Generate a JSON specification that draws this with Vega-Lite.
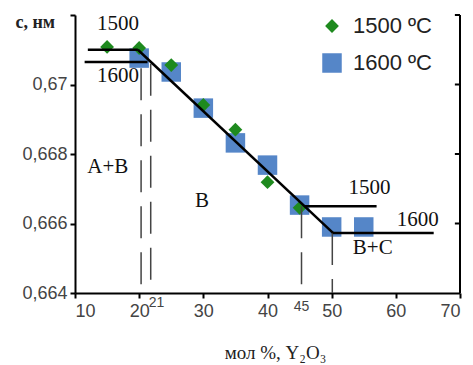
{
  "$schema": "https://vega.github.io/schema/vega-lite/v6.json",
  "width": 385,
  "height": 278,
  "autosize": {"type": "none"},
  "padding": {"left": 75, "top": 15, "right": 13, "bottom": 72},
  "background": "white",
  "config": {"view": {"stroke": null}},
  "datasets": {
    "points": [
      {"x": 20, "c": 0.67076, "series": "1600 ºC"},
      {"x": 25, "c": 0.67036, "series": "1600 ºC"},
      {"x": 30, "c": 0.66932, "series": "1600 ºC"},
      {"x": 35, "c": 0.66832, "series": "1600 ºC"},
      {"x": 40, "c": 0.66768, "series": "1600 ºC"},
      {"x": 45, "c": 0.66653, "series": "1600 ºC"},
      {"x": 50, "c": 0.6659, "series": "1600 ºC"},
      {"x": 55, "c": 0.6659, "series": "1600 ºC"},
      {"x": 15, "c": 0.67108, "series": "1500 ºC"},
      {"x": 20, "c": 0.67105, "series": "1500 ºC"},
      {"x": 25, "c": 0.67056, "series": "1500 ºC"},
      {"x": 30, "c": 0.66941, "series": "1500 ºC"},
      {"x": 35, "c": 0.66870, "series": "1500 ºC"},
      {"x": 40, "c": 0.66719, "series": "1500 ºC"},
      {"x": 45, "c": 0.66645, "series": "1500 ºC"}
    ],
    "solid": [
      {"x": 12, "y": 0.671, "x2": 19.8, "y2": 0.671},
      {"x": 11.5, "y": 0.67065, "x2": 21.3, "y2": 0.67065},
      {"x": 19.8, "y": 0.671, "x2": 50.2, "y2": 0.66573},
      {"x": 45.8, "y": 0.6665, "x2": 57, "y2": 0.6665},
      {"x": 50.2, "y": 0.66573, "x2": 65.9, "y2": 0.66573}
    ],
    "frame": [
      {"x": 70, "y": 0.664, "x2": 70, "y2": 0.672},
      {"x": 69.2, "y": 0.666, "x2": 70, "y2": 0.666},
      {"x": 69.2, "y": 0.668, "x2": 70, "y2": 0.668},
      {"x": 69.2, "y": 0.67, "x2": 70, "y2": 0.67},
      {"x": 69.2, "y": 0.672, "x2": 70, "y2": 0.672}
    ],
    "dashed": [
      {"x": 20.3, "y": 0.67047, "y2": 0.664},
      {"x": 21.8, "y": 0.6706, "y2": 0.664},
      {"x": 45.3, "y": 0.6665, "y2": 0.664},
      {"x": 50.1, "y": 0.66573, "y2": 0.664}
    ],
    "notes": [
      {"x": 16.7, "y": 0.67174, "t": "1500"},
      {"x": 16.7, "y": 0.67024, "t": "1600"},
      {"x": 15.1, "y": 0.66763, "t": "A+B"},
      {"x": 29.8, "y": 0.66665, "t": "B"},
      {"x": 55.9, "y": 0.66702, "t": "1500"},
      {"x": 63.4, "y": 0.6661, "t": "1600"},
      {"x": 56.4, "y": 0.66529, "t": "B+C"}
    ],
    "small": [
      {"x": 22.7, "y": 0.66371, "t": "21"},
      {"x": 45.3, "y": 0.66359, "t": "45"}
    ]
  },
  "layer": [
    {
      "data": {"name": "points"},
      "mark": {"type": "point", "filled": true, "opacity": 1},
      "encoding": {
        "x": {
          "field": "x", "type": "quantitative",
          "scale": {"domain": [10, 70], "nice": false, "zero": false},
          "axis": {
            "values": [10, 20, 30, 40, 50, 60, 70],
            "grid": false, "domainColor": "#000", "domainWidth": 2,
            "tickColor": "#000", "tickSize": 5, "tickWidth": 2,
            "labelFont": "Liberation Sans", "labelFontSize": 18, "labelColor": "#444", "labelPadding": 4,
            "title": "мол %, Y₂O₃", "titleFont": "Liberation Serif", "titleFontSize": 19,
            "titleFontWeight": "normal", "titleColor": "#222",
            "titleX": 200, "titleY": 59, "titleBaseline": "middle"
          }
        },
        "y": {
          "field": "c", "type": "quantitative",
          "scale": {"domain": [0.664, 0.672], "nice": false, "zero": false},
          "axis": {
            "values": [0.664, 0.666, 0.668, 0.67, 0.672],
            "labelExpr": "datum.value > 0.671 ? '' : replace(format(datum.value, '.3~f'), '.', ',')",
            "grid": false, "domainColor": "#000", "domainWidth": 2,
            "tickColor": "#000", "tickSize": 5, "tickWidth": 2,
            "labelFont": "Liberation Sans", "labelFontSize": 18, "labelColor": "#444", "labelPadding": 3,
            "title": "с, нм", "titleFont": "Liberation Serif", "titleFontSize": 18,
            "titleFontWeight": "bold", "titleColor": "#222", "titleAngle": 0,
            "titleAlign": "left", "titleBaseline": "middle", "titleX": -60, "titleY": 7
          }
        },
        "color": {
          "field": "series", "type": "nominal",
          "scale": {"domain": ["1500 ºC", "1600 ºC"], "range": ["#1e8a1e", "#5586c8"]},
          "legend": {
            "title": null, "orient": "none", "legendX": 246, "legendY": 0,
            "labelFont": "Liberation Sans", "labelFontSize": 22, "labelColor": "#222",
            "symbolOpacity": 1, "rowPadding": 13, "labelOffset": 10
          }
        },
        "shape": {
          "field": "series", "type": "nominal",
          "scale": {"domain": ["1500 ºC", "1600 ºC"], "range": ["diamond", "square"]}
        },
        "size": {
          "field": "series", "type": "nominal",
          "scale": {"domain": ["1500 ºC", "1600 ºC"], "range": [190, 380]}
        }
      }
    },
    {
      "data": {"name": "dashed"},
      "mark": {"type": "rule", "color": "#444", "strokeWidth": 1.5, "strokeDash": [32, 14]},
      "encoding": {
        "x": {"field": "x", "type": "quantitative"},
        "y": {"field": "y", "type": "quantitative"},
        "y2": {"field": "y2"}
      }
    },
    {
      "data": {"name": "frame"},
      "mark": {"type": "rule", "color": "#000", "strokeWidth": 2},
      "encoding": {
        "x": {"field": "x", "type": "quantitative"},
        "y": {"field": "y", "type": "quantitative"},
        "x2": {"field": "x2"},
        "y2": {"field": "y2"}
      }
    },
    {
      "data": {"name": "solid"},
      "mark": {"type": "rule", "color": "#000", "strokeWidth": 2.5},
      "encoding": {
        "x": {"field": "x", "type": "quantitative"},
        "y": {"field": "y", "type": "quantitative"},
        "x2": {"field": "x2"},
        "y2": {"field": "y2"}
      }
    },
    {
      "data": {"name": "notes"},
      "mark": {"type": "text", "font": "Liberation Serif", "fontSize": 21, "color": "#111", "baseline": "middle"},
      "encoding": {
        "x": {"field": "x", "type": "quantitative"},
        "y": {"field": "y", "type": "quantitative"},
        "text": {"field": "t"}
      }
    },
    {
      "data": {"name": "small"},
      "mark": {"type": "text", "font": "Liberation Sans", "fontSize": 14, "color": "#444", "baseline": "middle"},
      "encoding": {
        "x": {"field": "x", "type": "quantitative"},
        "y": {"field": "y", "type": "quantitative"},
        "text": {"field": "t"}
      }
    }
  ]
}
